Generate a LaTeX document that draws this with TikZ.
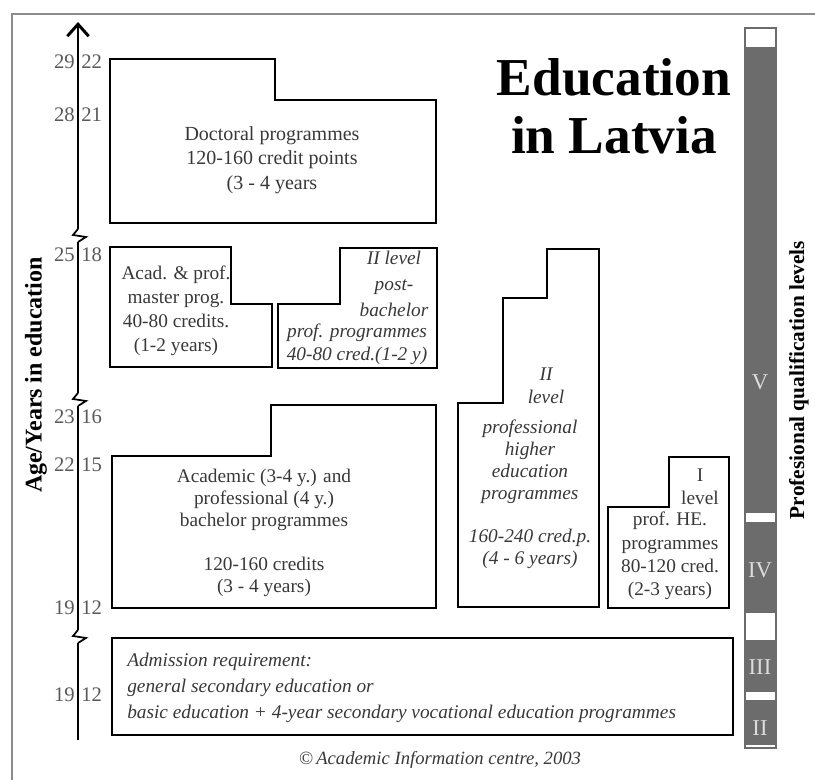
\documentclass[tikz,border=0pt]{standalone}
\usepackage{fontspec}
\setmainfont{Liberation Serif}
\usetikzlibrary{arrows.meta}
\definecolor{framegray}{gray}{0.55}
\definecolor{bargray}{RGB}{108,108,108}
\definecolor{barlabel}{RGB}{220,220,220}
\definecolor{txtgray}{gray}{0.22}
\definecolor{numgray}{gray}{0.35}

\begin{document}
\begin{tikzpicture}[x=0.75pt, y=-0.75pt,
    prog/.style={draw=black, line width=2.1pt, line join=miter},
    axisline/.style={draw=black, line width=2.2pt},
    boxtext/.style={font=\fontsize{14.5}{17}\selectfont, text=txtgray, align=center, inner sep=0pt},
    itext/.style={boxtext, font=\fontsize{14.5}{17}\selectfont\itshape},
    agenum/.style={font=\fontsize{15.5}{17}\selectfont, text=numgray, inner sep=0pt},
    roman/.style={font=\fontsize{17}{19}\selectfont, text=barlabel, inner sep=0pt}]
			\useasboundingbox (0,0) rectangle (815,780);

			% --- Frame ---
			\draw[framegray, line width=1.2pt] (12,780) -- (12,14) -- (815,14);

			% --- Title ---
			\node[font=\fontsize{40}{43.5}\selectfont\bfseries, align=center, inner sep=0pt] (title) at (614,106) {Education\\in Latvia};

			% --- Age axis (broken) ---
			\draw[axisline, -{Straight Barb[length=9pt, width=16pt, line width=2.2pt]}] (78,229) -- (78,22);
			\draw[axisline] (78,242) -- (78,393);
			\draw[axisline] (78,406) -- (78,630);
			\draw[axisline] (78,643) -- (78,740);
			\foreach \yb in {229, 393, 630}
				\draw[black, line width=1.3pt] (78,\yb) -- (73,\yb+6) -- (86,\yb+8) -- (78,\yb+13);

			% Ages / years
			\foreach \yy/\aa/\bb in {62/29/22, 115/28/21, 255/25/18, 417/23/16, 465/22/15, 608/19/12, 695/19/12}{
				\node[agenum, anchor=east] (age\aa-\yy) at (75,\yy) {\aa};
				\node[agenum, anchor=west] (yr\bb-\yy) at (81,\yy) {\bb};
			}
			\node[rotate=90, font=\fontsize{18}{20}\selectfont\bfseries, inner sep=0pt] (agelabel) at (36,375) {Age/Years in education};

			% --- Doctoral ---
			\draw[prog] (110,59) -- (275,59) -- (275,100) -- (436,100) -- (436,223) -- (110,223) -- cycle;
			\node[boxtext, font=\fontsize{15}{18.5}\selectfont] (doct) at (272,160) {Doctoral programmes\\120-160 credit points\\(3 - 4 years};

			% --- Master / post-bachelor ---
			\draw[prog] (110,247) -- (231,247) -- (231,304) -- (272,304) -- (272,367) -- (110,367) -- cycle;
			\node[boxtext, font=\fontsize{14.5}{18}\selectfont] (mast) at (176,311) {Acad. \& prof.\\master prog.\\40-80 credits.\\(1-2 years)};

			\draw[prog] (278,304) -- (340,304) -- (340,248) -- (437,248) -- (437,368) -- (278,368) -- cycle;
			\node[itext, font=\fontsize{14.5}{19.5}\selectfont\itshape] (postb) at (394,284) {II level\\post-\\bachelor};
			\node[itext] (postbcred) at (357,344) {prof. programmes\\40-80 cred.(1-2 y)};

			% --- Bachelor ---
			\draw[prog] (112,456) -- (271,456) -- (271,405) -- (436,405) -- (436,608) -- (112,608) -- cycle;
			\node[boxtext, font=\fontsize{14.5}{16.5}\selectfont] (bach) at (264,533) {Academic (3-4 y.) and\\professional (4 y.)\\bachelor programmes\\[16.5pt]120-160 credits\\(3 - 4 years)};

			% --- II level professional ---
			\draw[prog] (458,607) -- (458,403) -- (503,403) -- (503,298) -- (547,298) -- (547,249) -- (599,249) -- (599,607) -- cycle;
			\node[itext] (prof2) at (546,386) {II\\level};
			\node[itext, font=\fontsize{14.5}{16.5}\selectfont\itshape] (prof2txt) at (530,494) {professional\\higher\\education\\programmes\\[16pt]160-240 cred.p.\\(4 - 6 years)};

			% --- I level professional ---
			\draw[prog] (608,608) -- (608,507) -- (669,507) -- (669,457) -- (729,457) -- (729,608) -- cycle;
			\node[boxtext] (prof1) at (700,487) {I\\level};
			\node[boxtext, font=\fontsize{14.5}{17.5}\selectfont] (prof1txt) at (670,556) {prof. HE.\\programmes\\80-120 cred.\\(2-3 years)};

			% --- Admission ---
			\draw[prog] (112,638) rectangle (733,735);
			\node[itext, align=left, anchor=west, font=\fontsize{14.5}{19.5}\selectfont\itshape] (adm) at (127,688) {Admission requirement:\\general secondary education or\\basic education + 4-year secondary vocational education programmes};

			\node[itext, font=\fontsize{14}{16}\selectfont\itshape] (copy) at (440,760) {©\,Academic Information centre, 2003};

			% --- Qualification levels bar ---
			\fill[bargray] (745,47) rectangle (776,513);
			\fill[bargray] (745,522) rectangle (776,613);
			\fill[bargray] (745,640) rectangle (776,692);
			\fill[bargray] (745,700) rectangle (776,745);
			\draw[bargray, line width=0.8pt] (745,28) rectangle (776,748);
			\node[roman] (lvV) at (760,382) {V};
			\node[roman] (lvIV) at (760,570) {IV};
			\node[roman] (lvIII) at (760,667) {III};
			\node[roman] (lvII) at (760,728) {II};

			\node[rotate=90, font=\fontsize{16}{18}\selectfont\bfseries, inner sep=0pt] (quallabel) at (799,380) {Profesional qualification levels};
		\end{tikzpicture}
\end{document}
